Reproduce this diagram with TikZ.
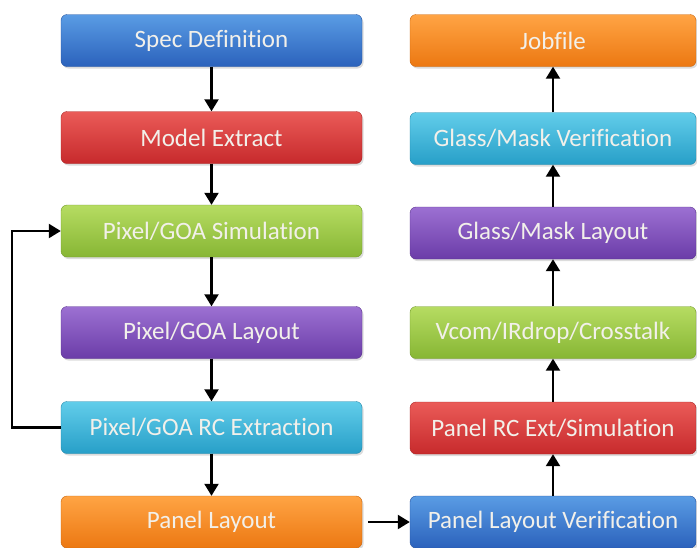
\documentclass[tikz,border=0pt]{standalone}
\usepackage{fontspec}
\setmainfont{Carlito}[Ligatures={NoCommon,NoDiscretionary,NoRequired}]
\usetikzlibrary{shadows,arrows.meta}

\definecolor{bluetop}{HTML}{5A9CE4}
\definecolor{bluebot}{HTML}{2B62BC}
\definecolor{redtop}{HTML}{EA5B58}
\definecolor{redbot}{HTML}{C72A2C}
\definecolor{greentop}{HTML}{B6DC62}
\definecolor{greenbot}{HTML}{87B634}
\definecolor{purpletop}{HTML}{9C70D2}
\definecolor{purplebot}{HTML}{6B3CA8}
\definecolor{cyantop}{HTML}{62CDEA}
\definecolor{cyanbot}{HTML}{279FC8}
\definecolor{orangetop}{HTML}{FFA444}
\definecolor{orangebot}{HTML}{EC7812}
\definecolor{labeltext}{HTML}{F2F0EA}

\tikzset{
  stage/.style={rounded corners=6pt, minimum height=52pt,
    font=\fontsize{25}{27}\selectfont, text=labeltext,
    drop shadow={opacity=0.28, shadow xshift=1.5pt, shadow yshift=-2pt}},
  leftbox/.style={stage, minimum width=301pt},
  rightbox/.style={stage, minimum width=286pt},
  bluebox/.style={top color=bluetop, bottom color=bluebot, draw=bluebot!85!black},
  redbox/.style={top color=redtop, bottom color=redbot, draw=redbot!85!black},
  greenbox/.style={top color=greentop, bottom color=greenbot, draw=greenbot!85!black},
  purplebox/.style={top color=purpletop, bottom color=purplebot, draw=purplebot!85!black},
  cyanbox/.style={top color=cyantop, bottom color=cyanbot, draw=cyanbot!85!black},
  orangebox/.style={top color=orangetop, bottom color=orangebot, draw=orangebot!85!black},
  flow/.style={draw=black, line width=2.2pt, -{Triangle[length=12pt,width=14pt]}},
}

\begin{document}
\begin{tikzpicture}[x=1pt, y=-1pt]
\useasboundingbox (0,0) rectangle (697,547);

% left column
\node[leftbox, bluebox]   (spec)  at (211.5,40.5)  {Spec Definition};
\node[leftbox, redbox]    (model) at (211.5,137.5) {Model Extract};
\node[leftbox, greenbox]  (sim)   at (211.5,231)   {Pixel/GOA Simulation};
\node[leftbox, purplebox] (lay)   at (211.5,332.5) {Pixel/GOA Layout};
\node[leftbox, cyanbox]   (rc)    at (211.5,427.5) {Pixel/GOA RC Extraction};
\node[leftbox, orangebox] (panel) at (211.5,522)   {Panel Layout};

% right column
\node[rightbox, orangebox] (job)   at (553,40.5)  {Jobfile};
\node[rightbox, cyanbox]   (gmv)   at (553,138.5) {Glass/Mask Verification};
\node[rightbox, purplebox] (gml)   at (553,233)   {Glass/Mask Layout};
\node[rightbox, greenbox]  (vcom)  at (553,332.5) {Vcom/IRdrop/Crosstalk};
\node[rightbox, redbox]    (prc)   at (553,428)   {Panel RC Ext/Simulation};
\node[rightbox, bluebox]   (plv)   at (553,522)   {Panel Layout Verification};

% downward flow on the left
\draw[flow] (spec)  -- (model);
\draw[flow] (model) -- (sim);
\draw[flow] (sim)   -- (lay);
\draw[flow] (lay)   -- (rc);
\draw[flow] (rc)    -- (panel);

% feedback loop from extraction back to simulation
\draw[flow] (rc.west) -- ++(-49,0) |- (sim.west);

% hand-over to the right column
\draw[flow] ([xshift=6pt]panel.east) -- (plv.west);

% upward flow on the right
\draw[flow] (plv)  -- (prc);
\draw[flow] (prc)  -- (vcom);
\draw[flow] (vcom) -- (gml);
\draw[flow] (gml)  -- (gmv);
\draw[flow] (gmv)  -- (job);
\end{tikzpicture}
\end{document}
